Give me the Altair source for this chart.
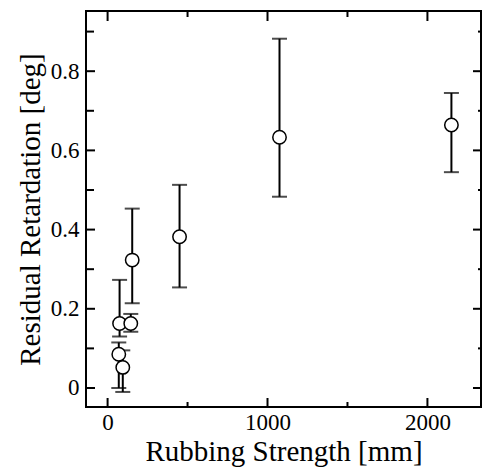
import altair as alt
import pandas as pd

# Data
strength = [2150, 1075, 450, 154, 75, 145, 70, 95]
retard = [0.664, 0.633, 0.382, 0.323, 0.163, 0.163, 0.085, 0.052]
err_lo = [0.545, 0.483, 0.254, 0.214, 0.130, 0.142, 0.000, -0.010]
err_hi = [0.745, 0.882, 0.513, 0.453, 0.273, 0.187, 0.115, 0.095]

y_ticks_major = [0, 0.2, 0.4, 0.6, 0.8]
y_ticks_minor = [0.1, 0.3, 0.5, 0.7, 0.9]
x_ticks_major = [0, 1000, 2000]
x_ticks_minor = [500, 1500]

W, H = 395, 396
FONT = "Liberation Serif"

df = pd.DataFrame({"x": strength, "y": retard, "lo": err_lo, "hi": err_hi})

xs = alt.Scale(domain=[-135, 2335], nice=False, zero=False)
ys = alt.Scale(domain=[-0.048, 0.952], nice=False, zero=False)

xax = alt.Axis(values=x_ticks_major, format="d", ticks=False, domain=False, grid=False,
               labelFont=FONT, labelFontSize=23, labelColor="black", labelPadding=4,
               titleFont=FONT, titleFontSize=29, titleFontWeight="normal", titleColor="black",
               titlePadding=3)
yax = alt.Axis(values=y_ticks_major, format=".1~f", ticks=False, domain=False, grid=False,
               labelFont=FONT, labelFontSize=23, labelColor="black", labelPadding=7,
               titleFont=FONT, titleFontSize=29, titleFontWeight="normal", titleColor="black",
               titlePadding=5)

base = alt.Chart(df)

bars = base.mark_rule(color="black", strokeWidth=2).encode(
    x=alt.X("x:Q", scale=xs, axis=xax, title="Rubbing Strength [mm]"),
    y=alt.Y("lo:Q", scale=ys, axis=yax, title="Residual Retardation [deg]"),
    y2="hi:Q",
)
cap_lo = base.mark_tick(color="black", thickness=2, size=15, orient="horizontal").encode(
    x=alt.X("x:Q", scale=xs), y=alt.Y("lo:Q", scale=ys))
cap_hi = base.mark_tick(color="black", thickness=2, size=15, orient="horizontal").encode(
    x=alt.X("x:Q", scale=xs), y=alt.Y("hi:Q", scale=ys))
pts = base.mark_point(shape="circle", filled=True, fill="white", stroke="black",
                      strokeWidth=1.5, size=180, opacity=1).encode(
    x=alt.X("x:Q", scale=xs), y=alt.Y("y:Q", scale=ys))

ymaj = pd.DataFrame({"v": y_ticks_major})
ymin = pd.DataFrame({"v": y_ticks_minor})
xmaj = pd.DataFrame({"v": x_ticks_major})
xmin = pd.DataFrame({"v": x_ticks_minor})

def yt(d, x0, x1):
    return alt.Chart(d).mark_rule(color="black", strokeWidth=2).encode(
        y=alt.Y("v:Q", scale=ys), x=alt.value(x0), x2=alt.value(x1))

def xt(d, y0, y1):
    return alt.Chart(d).mark_rule(color="black", strokeWidth=2).encode(
        x=alt.X("v:Q", scale=xs), y=alt.value(y0), y2=alt.value(y1))

ticks = [
    yt(ymaj, 0, 9), yt(ymin, 0, 8),
    yt(ymaj, W, W - 8), yt(ymin, W, W - 3),
    xt(xmaj, H, H - 9), xt(xmin, H, H - 5),
    xt(xmaj, 0, 10), xt(xmin, 0, 6),
]

chart = alt.layer(bars, cap_lo, cap_hi, pts, *ticks).properties(
    width=W, height=H,
    padding={"left": 86, "top": 11, "right": 1, "bottom": 62},
    autosize=alt.AutoSizeParams(type="none"),
    background="white",
).configure_view(stroke="black", strokeWidth=2)

chart.save("out.html", embed_options={"renderer": "svg", "actions": False})
